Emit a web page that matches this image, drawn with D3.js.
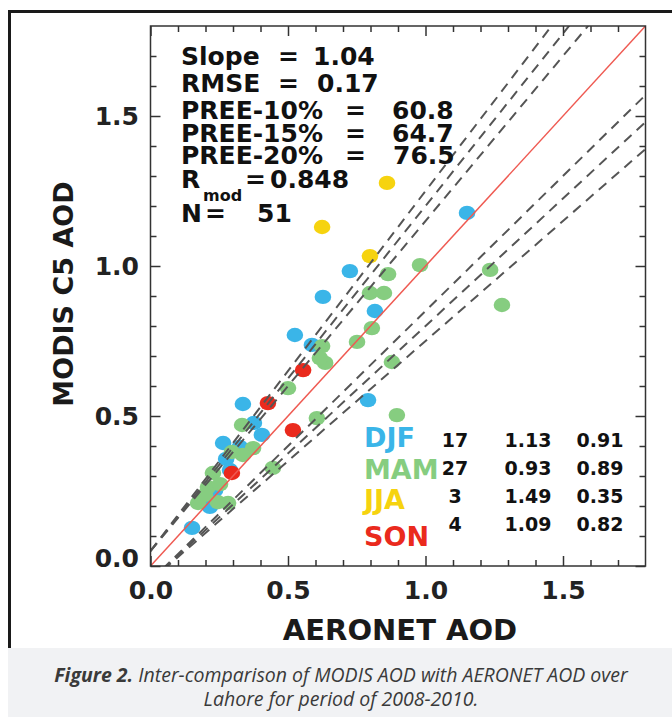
<!DOCTYPE html>
<html>
<head>
<meta charset="utf-8">
<script src="https://cdn.jsdelivr.net/npm/d3@7"></script>
<style>
  html, body { margin: 0; padding: 0; background: #ffffff; }
  svg { display: block; }
</style>
</head>
<body>
<svg id="chart" width="672" height="717"></svg>
<script>
// ---------------- DATA ----------------
// DJF (winter) – AERONET AOD (x) vs MODIS C5 AOD (y)
const djfX = [1.151, 0.725, 0.627, 0.816, 0.525, 0.587, 0.336, 0.791, 0.376, 0.264, 0.275, 0.216, 0.151, 0.235, 0.325, 0.405, 0.289];
const djfY = [1.177, 0.983, 0.897, 0.850, 0.770, 0.737, 0.540, 0.553, 0.477, 0.410, 0.357, 0.197, 0.127, 0.253, 0.397, 0.437, 0.320];
// MAM (spring)
const mamX = [0.980, 1.235, 0.864, 0.798, 0.849, 1.278, 0.805, 0.751, 0.624, 0.635, 0.878, 0.500, 0.605, 0.896, 0.333, 0.373, 0.336, 0.445, 0.227, 0.209, 0.253, 0.173, 0.245, 0.282, 0.616, 0.296, 0.198];
const mamY = [1.003, 0.987, 0.973, 0.910, 0.910, 0.870, 0.793, 0.747, 0.733, 0.677, 0.680, 0.593, 0.493, 0.503, 0.470, 0.393, 0.370, 0.327, 0.310, 0.263, 0.273, 0.210, 0.213, 0.210, 0.693, 0.380, 0.237];
// JJA (summer)
const jjaX = [0.860, 0.624, 0.798];
const jjaY = [1.277, 1.130, 1.033];
// SON (autumn)
const sonX = [0.555, 0.427, 0.518, 0.296];
const sonY = [0.653, 0.543, 0.453, 0.310];

const seasons = ["DJF", "MAM", "JJA", "SON"];
const seasonN = ["17", "27", "3", "4"];
const seasonSlope = ["1.13", "0.93", "1.49", "1.09"];
const seasonR = ["0.91", "0.89", "0.35", "0.82"];

const statLabels = ["Slope", "RMSE", "PREE-10%", "PREE-15%", "PREE-20%", "R", "N"];
const statValues = ["1.04", "0.17", "60.8", "64.7", "76.5", "0.848", "51"];

const xTickLabels = ["0.0", "0.5", "1.0", "1.5"];
const yTickLabels = ["0.0", "0.5", "1.0", "1.5"];
const majorTicks = [0, 0.5, 1.0, 1.5];
const minorTicks = [0.1, 0.2, 0.3, 0.4, 0.6, 0.7, 0.8, 0.9, 1.1, 1.2, 1.3, 1.4, 1.6, 1.7];

// expected-error envelopes: +/- (eeIntercept + slope * tau)
const eeIntercept = 0.05;
const eeSlopes = [0.10, 0.15, 0.20];

const xTitle = "AERONET AOD";
const yTitle = "MODIS C5 AOD";
const captionBold = "Figure 2.";
const captionLine1 = " Inter-comparison of MODIS AOD with AERONET AOD over";
const captionLine2 = "Lahore for period of 2008-2010.";

// ---------------- LAYOUT ----------------
const svg = d3.select("#chart");
const L = 150.5, R = 645.5, T = 26, B = 566;
const x = d3.scaleLinear().domain([0, 1.8]).range([L, R]);
const y = d3.scaleLinear().domain([0, 1.8]).range([B, T]);

const colors = { DJF: "#3ab5e8", MAM: "#86cd80", JJA: "#f6d30f", SON: "#ea2a1d" };
const boldFont = "'DejaVu Sans', sans-serif";

// outer frame (left + top) and caption box
svg.append("rect").attr("x", 8).attr("y", 648).attr("width", 664).attr("height", 69).attr("fill", "#f1f2f4");
svg.append("path")
  .attr("d", d3.line()([[9.5, 648], [9.5, 11.5], [672, 11.5]]))
  .attr("fill", "none").attr("stroke", "#1a1a1a").attr("stroke-width", 3);

// clip
svg.append("clipPath").attr("id", "plotClip")
  .append("rect").attr("x", L).attr("y", T).attr("width", R - L).attr("height", B - T);

const plot = svg.append("g");

// points
function drawSeries(xs, ys, color) {
  plot.append("g").selectAll("ellipse")
    .data(xs.map((v, i) => [v, ys[i]]))
    .join("ellipse")
    .attr("cx", d => x(d[0]))
    .attr("cy", d => y(d[1]))
    .attr("rx", 8.3).attr("ry", 7.2)
    .attr("fill", color);
}
drawSeries(djfX, djfY, colors.DJF);
drawSeries(mamX, mamY, colors.MAM);
drawSeries(jjaX, jjaY, colors.JJA);
drawSeries(sonX, sonY, colors.SON);

// envelopes (dashed) drawn over the points
const lineGen = d3.line().x(d => x(d[0])).y(d => y(d[1]));
const xs = [0, 1.8];
const envG = plot.append("g").attr("clip-path", "url(#plotClip)");
eeSlopes.forEach(s => {
  envG.append("path")
    .attr("d", lineGen(xs.map(t => [t, t + eeIntercept + s * t])))
    .attr("fill", "none").attr("stroke", "#555").attr("stroke-width", 2)
    .attr("stroke-dasharray", "10,7");
  envG.append("path")
    .attr("d", lineGen(xs.map(t => [t, t - eeIntercept - s * t])))
    .attr("fill", "none").attr("stroke", "#555").attr("stroke-width", 2)
    .attr("stroke-dasharray", "10,7");
});
// 1:1 line
envG.append("path")
  .attr("d", lineGen(xs.map(t => [t, t])))
  .attr("fill", "none").attr("stroke", "#ef5a52").attr("stroke-width", 1.5);

// ---------------- AXES ----------------
function styleAxis(g) {
  g.select(".domain").remove();
  g.selectAll(".tick line").attr("stroke", "#333").attr("stroke-width", 1.5);
}
const fmt = (labels) => (d) => labels[majorTicks.indexOf(d)];

// bottom
svg.append("g").attr("transform", `translate(0,${B})`)
  .call(d3.axisBottom(x).tickValues(majorTicks).tickSizeInner(-10).tickSizeOuter(0).tickPadding(15).tickFormat(fmt(xTickLabels)))
  .call(styleAxis)
  .call(g => g.selectAll("text").attr("font-family", boldFont).attr("font-weight", "bold").attr("font-size", 25).attr("fill", "#222"));
svg.append("g").attr("transform", `translate(0,${B})`)
  .call(d3.axisBottom(x).tickValues(minorTicks).tickSizeInner(-6).tickSizeOuter(0).tickFormat(""))
  .call(styleAxis);
// top
svg.append("g").attr("transform", `translate(0,${T})`)
  .call(d3.axisTop(x).tickValues(majorTicks).tickSizeInner(-10).tickSizeOuter(0).tickFormat(""))
  .call(styleAxis);
svg.append("g").attr("transform", `translate(0,${T})`)
  .call(d3.axisTop(x).tickValues(minorTicks).tickSizeInner(-6).tickSizeOuter(0).tickFormat(""))
  .call(styleAxis);
// left
svg.append("g").attr("transform", `translate(${L},0)`)
  .call(d3.axisLeft(y).tickValues(majorTicks).tickSizeInner(-10).tickSizeOuter(0).tickPadding(11.5).tickFormat(fmt(yTickLabels)))
  .call(styleAxis)
  .call(g => g.selectAll("text").attr("font-family", boldFont).attr("font-weight", "bold").attr("font-size", 25).attr("fill", "#222"))
  .call(g => g.selectAll(".tick").filter(d => d === 0).select("text").attr("dy", "0.0em"));
svg.append("g").attr("transform", `translate(${L},0)`)
  .call(d3.axisLeft(y).tickValues(minorTicks).tickSizeInner(-6).tickSizeOuter(0).tickFormat(""))
  .call(styleAxis);
// right
svg.append("g").attr("transform", `translate(${R},0)`)
  .call(d3.axisRight(y).tickValues(majorTicks).tickSizeInner(-10).tickSizeOuter(0).tickFormat(""))
  .call(styleAxis);
svg.append("g").attr("transform", `translate(${R},0)`)
  .call(d3.axisRight(y).tickValues(minorTicks).tickSizeInner(-6).tickSizeOuter(0).tickFormat(""))
  .call(styleAxis);

// frame
svg.append("rect").attr("x", L).attr("y", T).attr("width", R - L).attr("height", B - T)
  .attr("fill", "none").attr("stroke", "#333").attr("stroke-width", 1.5);

// axis titles
svg.append("text").attr("x", 400).attr("y", 640).attr("text-anchor", "middle")
  .attr("font-family", boldFont).attr("font-weight", "bold").attr("font-size", 29).attr("fill", "#1a1a1a")
  .text(xTitle);
svg.append("text").attr("transform", "translate(73,294) rotate(-90)").attr("text-anchor", "middle")
  .attr("font-family", boldFont).attr("font-weight", "bold").attr("font-size", 27).attr("fill", "#1a1a1a")
  .text(yTitle);

// ---------------- STATS TEXT ----------------
const statBase = [65, 92, 119, 142, 164, 188, 222];
const eqX = [278, 278, 345, 345, 345, 245, 205];
const valX = [313, 317, 392, 392, 393, 270, 257];
const statG = svg.append("g").attr("font-family", boldFont).attr("font-weight", "bold").attr("font-size", 25).attr("fill", "#111");
statLabels.forEach((lab, i) => {
  statG.append("text").attr("x", 181).attr("y", statBase[i]).text(lab);
  statG.append("text").attr("x", eqX[i]).attr("y", statBase[i]).text("=");
  statG.append("text").attr("x", valX[i]).attr("y", statBase[i]).text(statValues[i]);
});
statG.append("text").attr("x", 203).attr("y", 201).attr("font-size", 16).text("mod");

// ---------------- SEASON TABLE ----------------
const rowSeason = [447, 479, 509, 546];
const rowNum = [447, 475, 503, 531];
const tab = svg.append("g").attr("font-family", boldFont).attr("font-weight", "bold");
seasons.forEach((s, i) => {
  tab.append("text").attr("x", 364).attr("y", rowSeason[i]).attr("font-size", 27).attr("fill", colors[s]).text(s);
  tab.append("text").attr("x", 455).attr("y", rowNum[i]).attr("text-anchor", "middle").attr("font-size", 19).attr("fill", "#111").text(seasonN[i]);
  tab.append("text").attr("x", 528).attr("y", rowNum[i]).attr("text-anchor", "middle").attr("font-size", 19).attr("fill", "#111").text(seasonSlope[i]);
  tab.append("text").attr("x", 600).attr("y", rowNum[i]).attr("text-anchor", "middle").attr("font-size", 19).attr("fill", "#111").text(seasonR[i]);
});

// ---------------- CAPTION ----------------
const cap = svg.append("g").attr("font-family", "'Open Sans', sans-serif").attr("font-style", "italic").attr("font-size", 19.5).attr("fill", "#3a3a3a").attr("text-anchor", "middle");
const t1 = cap.append("text").attr("x", 341).attr("y", 682);
t1.append("tspan").attr("font-weight", "bold").text(captionBold);
t1.append("tspan").text(captionLine1);
cap.append("text").attr("x", 341).attr("y", 706).text(captionLine2);
</script>
</body>
</html>
